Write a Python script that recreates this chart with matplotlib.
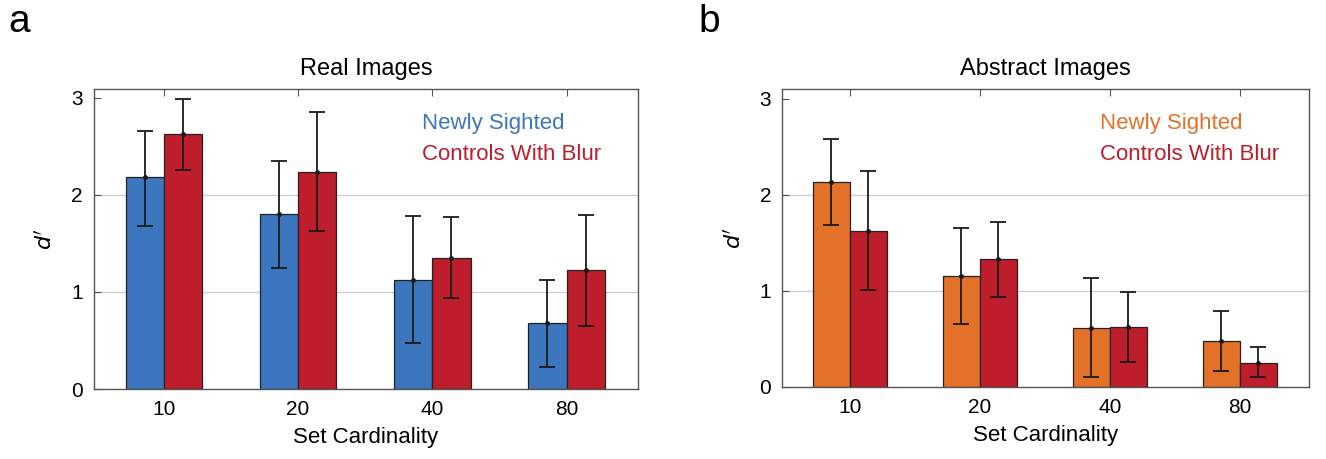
import numpy as np
import matplotlib
matplotlib.use("Agg")
import matplotlib.pyplot as plt
from matplotlib import font_manager

# -------------------------------
# Data
# -------------------------------
cardinality = ["10", "20", "40", "80"]

real_newly = [2.18, 1.80, 1.12, 0.68]
real_newly_lo = [1.68, 1.25, 0.47, 0.23]
real_newly_hi = [2.66, 2.35, 1.78, 1.12]
real_blur = [2.62, 2.23, 1.35, 1.22]
real_blur_lo = [2.25, 1.63, 0.94, 0.65]
real_blur_hi = [2.99, 2.85, 1.77, 1.79]

abs_newly = [2.13, 1.15, 0.61, 0.48]
abs_newly_lo = [1.69, 0.66, 0.10, 0.17]
abs_newly_hi = [2.58, 1.65, 1.13, 0.79]
abs_blur = [1.62, 1.33, 0.62, 0.25]
abs_blur_lo = [1.01, 0.94, 0.26, 0.10]
abs_blur_hi = [2.25, 1.72, 0.99, 0.42]

blue = "#3C76BE"
red = "#BE1E2B"
orange = "#E37127"

# condensed font if we have one
names = {f.name for f in font_manager.fontManager.ttflist}
family = "Liberation Sans Narrow" if "Liberation Sans Narrow" in names else "Liberation Sans"
plt.rcParams["font.family"] = [family, "DejaVu Sans"]

fig = plt.figure(figsize=(13.26, 4.59), dpi=100)
ax_a = fig.add_axes([0.0709, 0.1525, 0.410, 0.654])
ax_b = fig.add_axes([0.590, 0.157, 0.397, 0.649])


def draw_panel(ax, title, c1, v1, lo1, hi1, v2, lo2, hi2, ylim_top):
    x = np.arange(1, len(cardinality) + 1)
    w = 0.285
    for off, col, v, lo, hi in [(-w / 2, c1, v1, lo1, hi1), (w / 2, red, v2, lo2, hi2)]:
        v = np.array(v)
        yerr = [v - np.array(lo), np.array(hi) - v]
        ax.bar(x + off, v, width=w, color=col, edgecolor="#222222", linewidth=0.9, zorder=2)
        ax.errorbar(x + off, v, yerr=yerr, fmt="o", ms=2.5, color="#1a1a1a",
                    ecolor="#1a1a1a", elinewidth=1.3, capsize=6, capthick=1.3, zorder=3)

    ax.set_xlim(0.48, 4.53)
    ax.set_ylim(0, ylim_top)
    ax.set_xticks(x)
    ax.set_xticklabels(cardinality)
    ax.set_yticks([0, 1, 2, 3])
    ax.tick_params(axis="both", direction="in", labelsize=15, top=True, right=False,
                   length=5, color="#555555", pad=8)
    # light grid only at 1 and 2
    for g in [1, 2]:
        ax.axhline(g, color="#d0d0d0", linewidth=1.0, zorder=0)
    for sp in ax.spines.values():
        sp.set_color("#555555")
        sp.set_linewidth(1.0)
    ax.set_title(title, fontsize=17, pad=10)
    ax.set_xlabel("Set Cardinality", fontsize=16, labelpad=6)
    ax.set_ylabel("$d'$", fontsize=16, labelpad=10)

    ax.text(0.603, 0.883, "Newly Sighted", color=c1, fontsize=16,
            transform=ax.transAxes, va="center")
    ax.text(0.603, 0.78, "Controls With Blur", color=red, fontsize=16,
            transform=ax.transAxes, va="center")


draw_panel(ax_a, "Real Images", blue, real_newly, real_newly_lo, real_newly_hi,
           real_blur, real_blur_lo, real_blur_hi, 3.09)
draw_panel(ax_b, "Abstract Images", orange, abs_newly, abs_newly_lo, abs_newly_hi,
           abs_blur, abs_blur_lo, abs_blur_hi, 3.1)

fig.text(0.006, 0.93, "a", fontsize=28)
fig.text(0.527, 0.93, "b", fontsize=28)

fig.savefig("out.png", dpi=100)
